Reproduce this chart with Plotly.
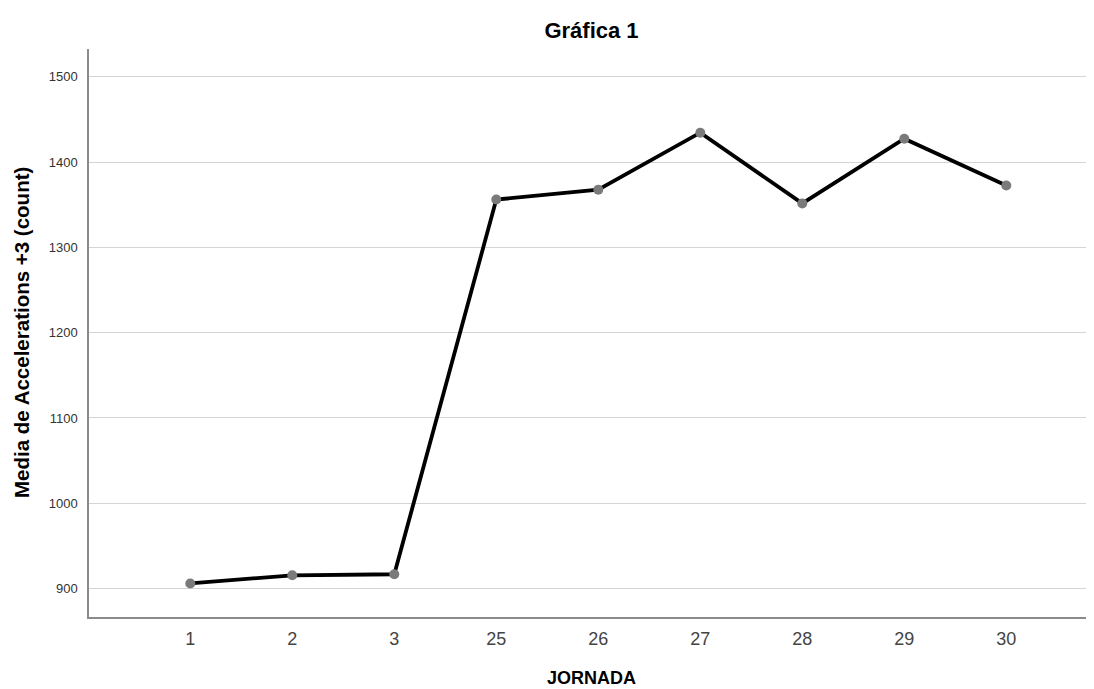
import plotly.graph_objects as go

jornada = ["1", "2", "3", "25", "26", "27", "28", "29", "30"]
media_acc = [906, 915.6, 916.8, 1356, 1367.5, 1434.4, 1351.5, 1427.3, 1372.5]
y_ticks = [900, 1000, 1100, 1200, 1300, 1400, 1500]

idx = list(range(len(jornada)))

W, H = 1086, 681  # page body has an 8px margin
fig = go.Figure()
fig.add_trace(go.Scatter(
    x=idx, y=media_acc, mode="lines+markers",
    line=dict(color="#000000", width=3.8),
    marker=dict(color="#7a7a7a", size=10),
    showlegend=False,
))

fig.update_layout(
    width=W, height=H,
    margin=dict(l=81, r=0, t=41, b=72),
    plot_bgcolor="white", paper_bgcolor="white",
    font=dict(family="Liberation Sans, Arial, sans-serif", color="#222"),
    title=dict(text="<b>Gráfica 1</b>", x=0.5, xref="paper", y=1 - 22 / H, yref="container",
               xanchor="center", yanchor="middle",
               font=dict(size=22, color="#000")),
    annotations=[
        dict(text="<b>JORNADA</b>", x=0.5, y=0, xref="paper", yref="paper",
             xanchor="center", yanchor="middle", yshift=-61, showarrow=False,
             font=dict(size=18, color="#000")),
        dict(text="<b>Media de Accelerations +3 (count)</b>", x=0, y=0.5, xref="paper", yref="paper",
             xanchor="center", yanchor="middle", xshift=-68, textangle=-90, showarrow=False,
             font=dict(size=20.5, color="#000")),
    ],
)
fig.update_xaxes(
    tickmode="array", tickvals=idx, ticktext=jornada,
    range=[-0.993, 8.86], showgrid=False, zeroline=False,
    showline=True, linecolor="#8a8a8a", linewidth=1.5,
    ticks="", ticklabelstandoff=5, tickfont=dict(size=18, color="#444"),
)
fig.update_yaxes(
    tickmode="array", tickvals=y_ticks,
    range=[866.7, 1532.5], showgrid=True, gridcolor="#d4d4d4", gridwidth=1.3,
    zeroline=False, showline=True, linecolor="#8a8a8a", linewidth=1.5,
    ticks="", ticklabelstandoff=7, tickfont=dict(size=13, color="#333"),
)

fig.write_html("out.html")
